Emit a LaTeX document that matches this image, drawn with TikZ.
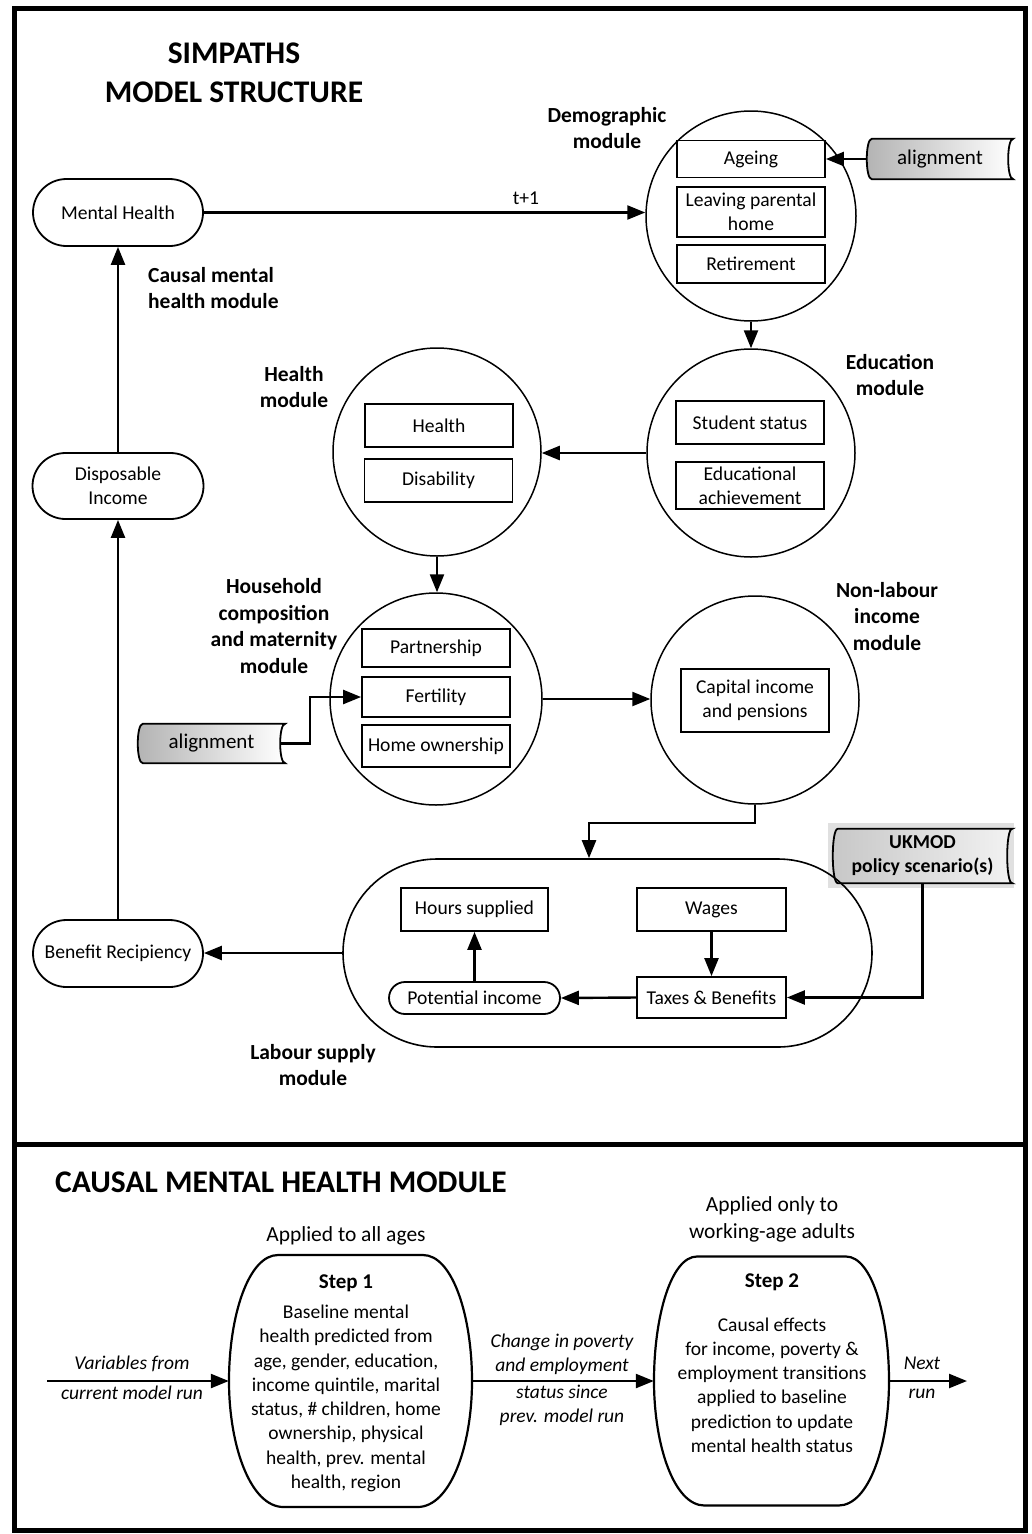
\documentclass[tikz,border=0pt]{standalone}
\usepackage{fontspec}
\setmainfont{Carlito}
\usetikzlibrary{arrows.meta,shapes.misc,calc}
\pgfdeclarelayer{background}
\pgfsetlayers{background,main}
\newcommand\storedshape[2]{%
  \begin{pgfonlayer}{background}
  \draw[#2] ([xshift=5pt]#1.north west) .. controls ([xshift=-1.7pt]#1.north west) and ([xshift=-1.7pt]#1.south west) .. ([xshift=5pt]#1.south west) -- (#1.south east) .. controls ([xshift=-6.7pt]#1.south east) and ([xshift=-6.7pt]#1.north east) .. (#1.north east) -- cycle;
  \end{pgfonlayer}}
\newcommand\drawbarrel[5]{%
  \draw[stepline, shift={(#1.center)}] (-#4,-#3) -- (#4,-#3)
    .. controls ({#4+0.6*(#2-#4)},-#3) and (#2,{-0.52*#3}) .. (#2,0)
    .. controls (#2,{0.52*#3}) and ({#5+0.6*(#2-#5)},#3) .. (#5,#3)
    -- (-#5,#3)
    .. controls ({-#5-0.6*(#2-#5)},#3) and (-#2,{0.52*#3}) .. (-#2,0)
    .. controls (-#2,{-0.52*#3}) and ({-#4-0.6*(#2-#4)},-#3) .. (-#4,-#3) -- cycle;}
\begin{document}
\begin{tikzpicture}[x=1pt,y=-1pt,
  arr/.style={line width=2.4pt,-{Triangle[length=18pt,width=14pt]}},
  modcircle/.style={circle,draw,line width=1.5pt,inner sep=0pt},
  subbox/.style={draw,line width=1.8pt,inner sep=0pt,align=center,minimum width=148pt,font=\fontsize{19.6}{24}\selectfont},
  pill/.style={rounded rectangle,draw,line width=1.8pt,inner sep=0pt,align=center,font=\fontsize{19.6}{24}\selectfont},
  modlabel/.style={align=center,inner sep=0pt,anchor=base,font=\fontsize{21.5}{26.5}\selectfont\bfseries},
  bigtitle/.style={inner sep=0pt,font=\fontsize{31.5}{39}\selectfont\bfseries},
  toptext/.style={inner sep=0pt,align=center,anchor=base,font=\fontsize{21.5}{27}\selectfont},
  flowlabel/.style={inner sep=0pt,align=center,anchor=base,font=\fontsize{19.5}{24}\selectfont\itshape},
  steptext/.style={inner sep=0pt,align=center,anchor=base,font=\fontsize{19.5}{24.3}\selectfont},
  stepline/.style={line width=2.2pt},
  storenode/.style={inner sep=0pt,align=center,font=\fontsize{21}{24}\selectfont},
  storefill/.style={draw,line width=1.8pt,left color=black!30,right color=white},
  ukfill/.style={draw,line width=1.8pt,left color=black!22,right color=black!5},
]
\useasboundingbox (0,0) rectangle (1031,1534);
\begin{pgfonlayer}{background}
\fill[white] (0,0) rectangle (1031,1534);
\end{pgfonlayer}

% frame
\draw[line width=5pt] (14,8.5) rectangle (1025.5,1530);
\draw[line width=5pt] (14,1144.5) -- (1025.5,1144.5);

% ---------- upper panel ----------
\node[bigtitle,align=center,anchor=base] (title) at (234,102) {SIMPATHS\\MODEL STRUCTURE};

\node[pill,minimum width=170pt,minimum height=67pt] (mh) at (118,212.5) {Mental Health};
\node[pill,minimum width=171pt,minimum height=66pt] (di) at (118,486) {Disposable\\Income};
\node[pill,minimum width=170pt,minimum height=67pt] (br) at (118,953.5) {Benefit Recipiency};
\node[modlabel,align=left,anchor=base west] (cmhlab) at (148,308.5) {Causal mental\\health module};

% demographic
\node[modcircle,minimum size=210pt] (demo) at (751,216) {};
\node[subbox,minimum height=37pt] (ageing) at (751,159) {Ageing};
\node[subbox,minimum height=50pt] (leaving) at (751,212) {Leaving parental\\home};
\node[subbox,minimum height=38pt] (retire) at (751,264) {Retirement};
\node[modlabel] (demolab) at (607,148.5) {Demographic\\module};
\node[storenode,minimum width=146pt,minimum height=40pt] (al1) at (940,159) {alignment};
\storedshape{al1}{storefill}
\node[inner sep=0pt,anchor=base,font=\fontsize{19.6}{24}\selectfont] (tplus) at (526,204) {t+1};

% education
\node[modcircle,minimum size=208pt] (edu) at (751,453) {};
\node[subbox,minimum height=43pt] (student) at (750,422.5) {Student status};
\node[subbox,minimum height=47pt] (eduach) at (750,485.5) {Educational\\achievement};
\node[modlabel] (edulab) at (890,395.5) {Education\\module};

% health
\node[modcircle,minimum size=208pt] (health) at (437,452) {};
\node[subbox,minimum height=43pt] (hbox) at (439,425.5) {Health};
\node[subbox,minimum height=43pt] (disab) at (438.5,480.5) {Disability};
\node[modlabel] (healthlab) at (294,407.5) {Health\\module};

% household
\node[modcircle,minimum size=212pt] (hh) at (436,699) {};
\node[subbox,minimum height=38pt] (partner) at (436,648) {Partnership};
\node[subbox,minimum height=40pt] (fert) at (436,697) {Fertility};
\node[subbox,minimum height=42pt] (homeown) at (436,746) {Home ownership};
\node[modlabel] (hhlab) at (274,673) {Household\\composition\\and maternity\\module};
\node[storenode,minimum width=147pt,minimum height=39pt] (al2) at (211.5,743.5) {alignment};
\storedshape{al2}{storefill}

% non-labour
\node[modcircle,minimum size=208pt] (nl) at (755,700) {};
\node[subbox,minimum height=63pt] (capinc) at (755,700.5) {Capital income\\and pensions};
\node[modlabel] (nllab) at (887,650) {Non-labour\\income\\module};

% labour supply
\node[rounded rectangle,draw,line width=1.6pt,inner sep=0pt,minimum width=529pt,minimum height=188pt] (ls) at (607.5,953) {};
\node[subbox,minimum width=147pt,minimum height=43pt] (hours) at (474.5,909.5) {Hours supplied};
\node[subbox,minimum width=149pt,minimum height=43pt] (wages) at (711.5,909.5) {Wages};
\node[subbox,minimum width=149pt,minimum height=41pt] (tax) at (711.5,997.5) {Taxes \& Benefits};
\node[pill,minimum width=171pt,minimum height=32pt] (pot) at (474.5,998) {Potential income};
\node[modlabel] (lslab) at (313,1085.5) {Labour supply\\module};

% UKMOD
\begin{pgfonlayer}{background}
\fill[black!12] (828,823) rectangle (1014,888);
\end{pgfonlayer}
\node[inner sep=0pt,minimum width=179pt,minimum height=54pt,align=center,font=\fontsize{19.7}{24}\selectfont\bfseries] (uk) at (922.5,856) {UKMOD\\policy scenario(s)};
\storedshape{uk}{ukfill}

% connectors upper
\draw[arr] (mh.east) -- (mh.east -| demo.west);
\draw[arr] (al1.west) -- (al1.west -| ageing.east);
\draw[arr] (demo.south) -- (demo.south |- edu.north);
\draw[arr] (edu.west) -- (edu.west -| health.east);
\draw[arr] (health.south) -- (health.south |- hh.north);
\draw[arr] ([xshift=-5pt]al2.east) -- ++(30,0) |- (fert.west);
\draw[arr] (hh.east) -- (hh.east -| nl.west);
\draw[arr] (nl.south) -- ++(0,18) -| ([xshift=-18.5pt]ls.north);
\draw[arr] (uk.south) |- (tax.east);
\draw[arr] (wages.south) -- (tax.north);
\draw[arr] (tax.west) -- (pot.east);
\draw[arr] (pot.north) -- (hours.south);
\draw[arr] (ls.west) -- (ls.west -| br.east);
\draw[arr] (br.north) -- (di.south);
\draw[arr] (di.north) -- (mh.south);

% ---------- lower panel ----------
\node[bigtitle,anchor=base west] (cmhtitle) at (55,1192) {CAUSAL MENTAL HEALTH MODULE};
\node[toptext] (app1) at (346,1241) {Applied to all ages};
\node[toptext] (app2) at (772,1238) {Applied only to\\working-age adults};

\node[inner sep=0pt,minimum width=243pt,minimum height=252pt] (s1) at (350.5,1381) {};
\node[inner sep=0pt,minimum width=235pt,minimum height=249pt] (s2) at (771.5,1381) {};
\drawbarrel{s1}{121.5}{126}{72.5}{67}
\drawbarrel{s2}{117.5}{124.5}{74.5}{67}

\node[steptext] (s1t) at (346,1488.5) {{\fontsize{21}{24.3}\selectfont\bfseries Step 1}\\[5.2pt]Baseline mental\\health predicted from\\age, gender, education,\\income quintile, marital\\status, \# children, home\\ownership, physical\\health, prev. mental\\health, region};
\node[steptext] (s2t) at (772,1452.5) {{\fontsize{21}{24.3}\selectfont\bfseries Step 2}\\[19.2pt]Causal effects\\for income, poverty \&\\employment transitions\\applied to baseline\\prediction to update\\mental health status};

\node[flowlabel] (vlab) at (132,1399.5) {Variables from\\[6pt]current model run};
\node[flowlabel] (chlab) at (562,1422.5) {Change in poverty\\and employment\\[3pt]status since\\prev. model run};
\node[flowlabel] (nextlab) at (922,1398.5) {Next\\[5pt]run};

\coordinate (vin) at (47,1381);
\coordinate (vout) at (967,1381);
\draw[arr] (vin) -- (s1.west);
\draw[arr] (s1.east) -- (s2.west);
\draw[arr] (s2.east) -- (vout);
\end{tikzpicture}
\end{document}
